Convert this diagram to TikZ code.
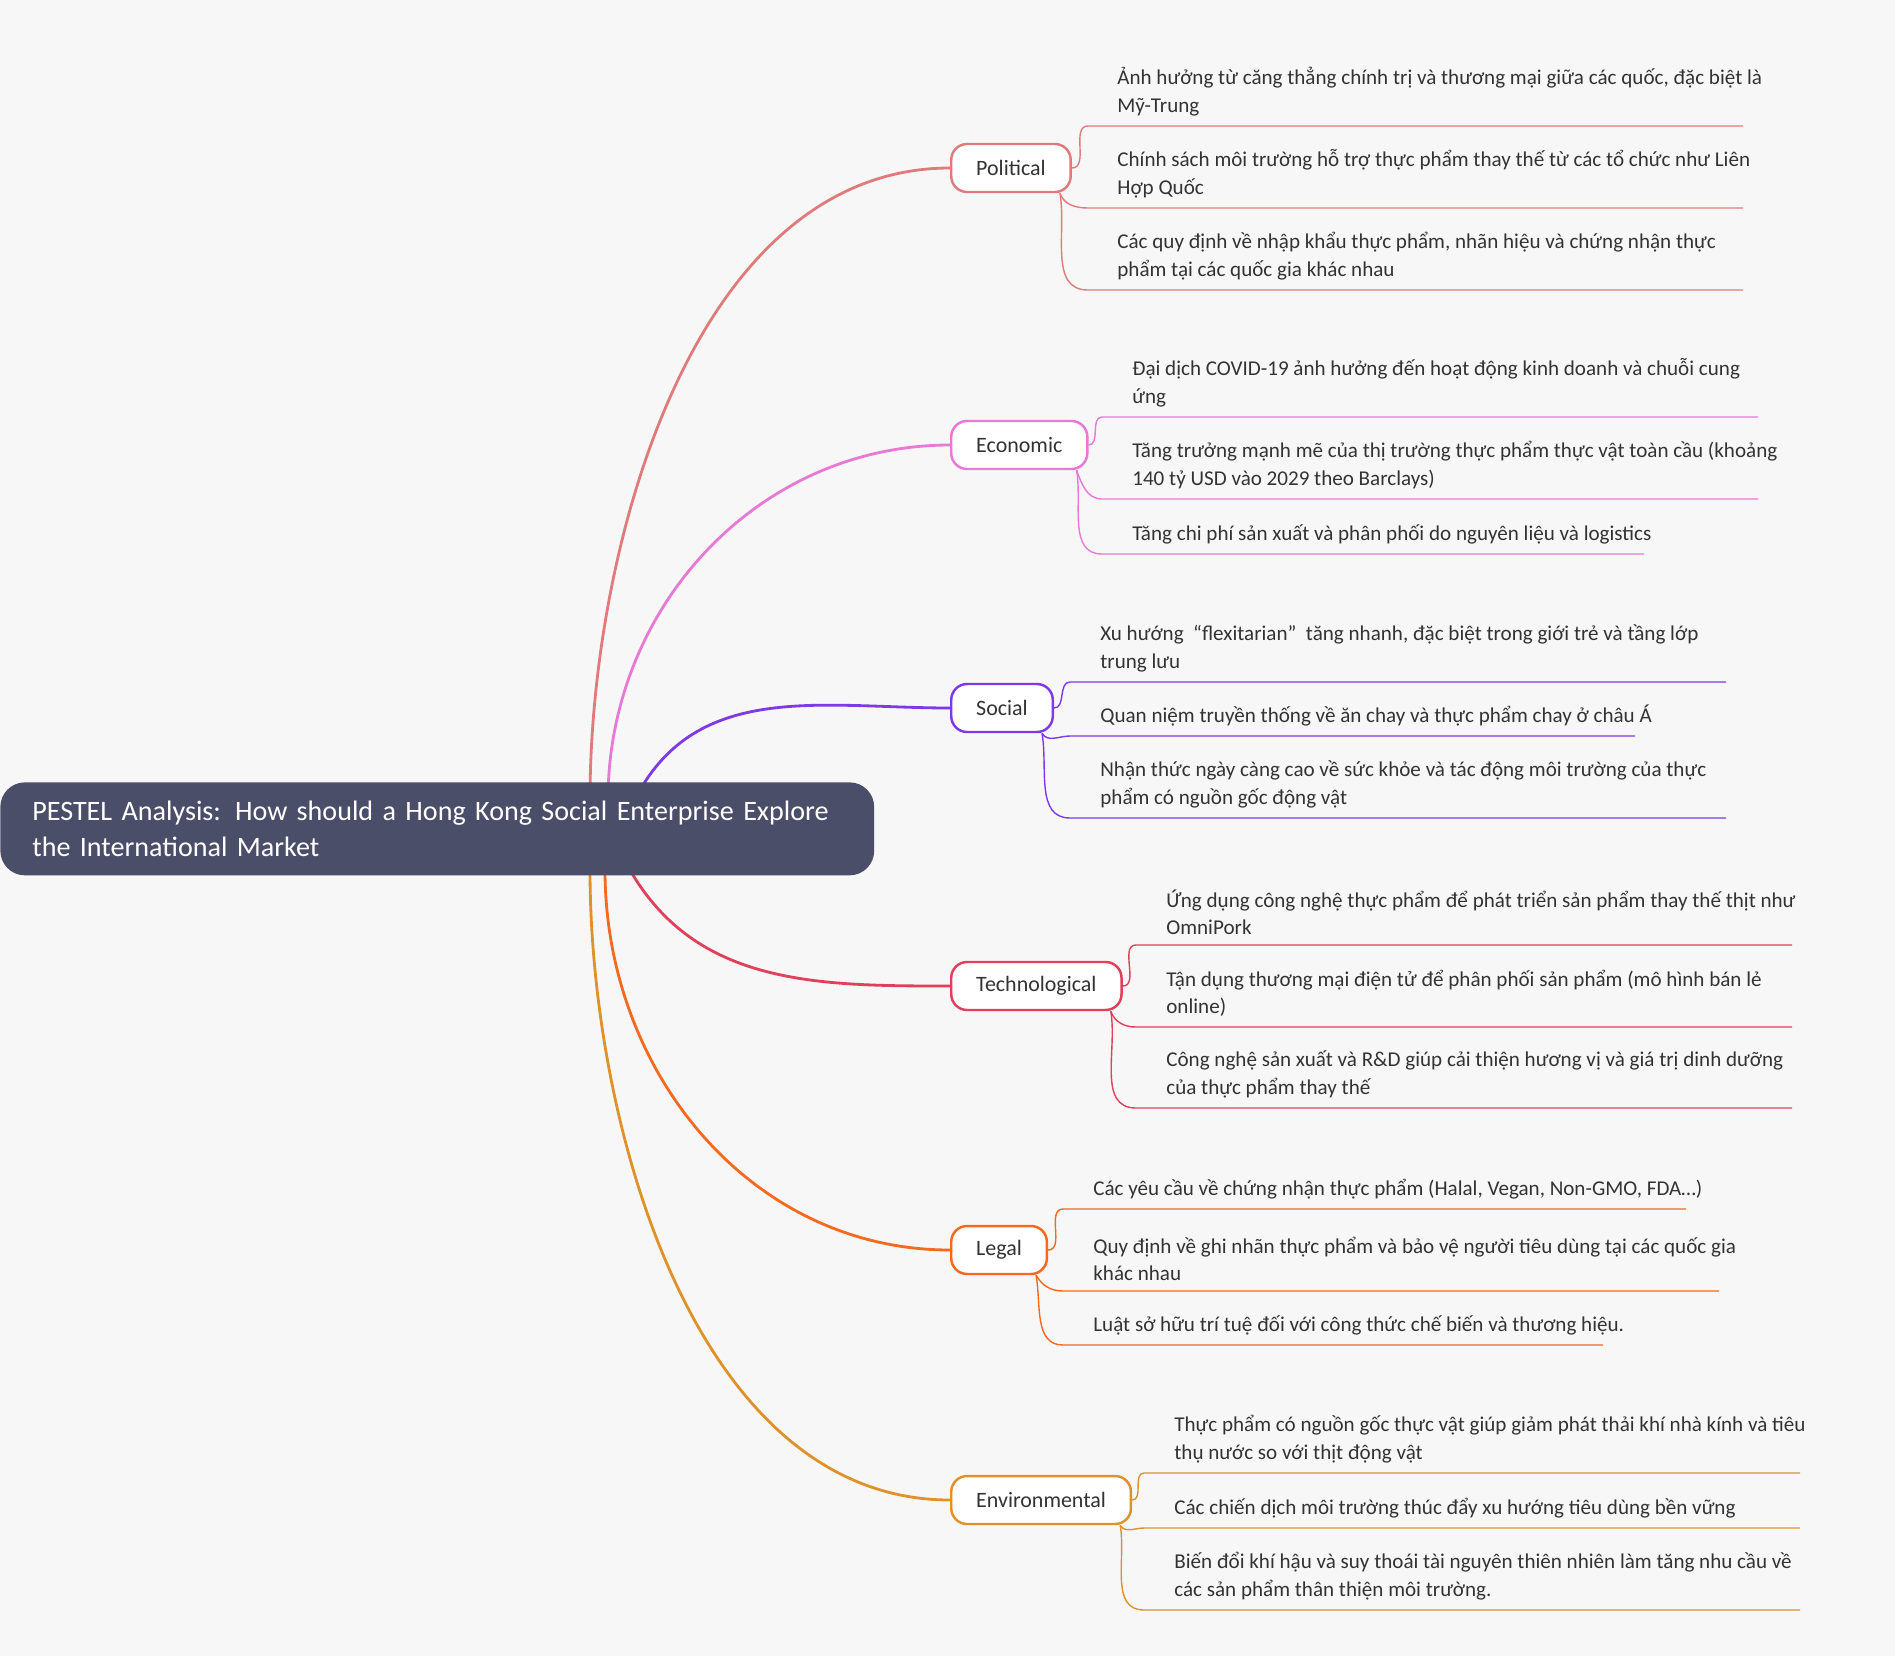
\documentclass[tikz,border=0pt]{standalone}
\usepackage{fontspec}
\setmainfont{Carlito}
\usepackage{tikz}
\usetikzlibrary{calc}
\definecolor{bgc}{HTML}{F7F7F7}
\definecolor{rootc}{HTML}{4B4E69}
\definecolor{txtc}{HTML}{333333}
\definecolor{polc}{HTML}{E07B7B}
\definecolor{ecoc}{HTML}{E879D4}
\definecolor{socc}{HTML}{7D3AE6}
\definecolor{tecc}{HTML}{E0405A}
\definecolor{legc}{HTML}{F56A1E}
\definecolor{envc}{HTML}{E0922A}
\begin{document}
\begin{tikzpicture}[x=0.02cm,y=-0.02cm]
    \tikzstyle{branch} = [line width=1.6pt]
    \tikzstyle{twig} = [line width=0.8pt]
    \tikzstyle{cat} = [draw, line width=1.4pt, fill=white, rounded corners=9pt, minimum height=0.96cm, inner xsep=0.5cm, text=txtc, font=\fontsize{12.5}{15}\selectfont, anchor=west]
    \tikzstyle{leaf} = [anchor=south west, align=left, inner sep=0pt, text=txtc, font=\fontsize{12}{15.6}\selectfont]
    % Background
    \fill [bgc] (0,0) rectangle (1895,1656);

    % Political
    \node [cat, draw=polc] (Pol) at (950,168) {Political};
    \draw [branch, polc] (590,800) to[out=90,in=180,looseness=0.9] (Pol.west);
      \coordinate (PolAs) at (1088,126); \coordinate (PolAe) at (1743,126);
      \node [leaf] (PolA) at (1117,116) {Ảnh hưởng từ căng thẳng chính trị và thương mại giữa các quốc, đặc biệt là\\Mỹ-Trung};
      \draw [twig, polc] (Pol.east) to[out=0,in=180] (PolAs) -- (PolAe);
      \coordinate (PolBs) at (1088,208); \coordinate (PolBe) at (1743,208);
      \node [leaf] (PolB) at (1117,198) {Chính sách môi trường hỗ trợ thực phẩm thay thế từ các tổ chức như Liên\\Hợp Quốc};
      \draw [twig, polc] ($(Pol.south east)+(-12,0)$) to[out=-70,in=180] (PolBs) -- (PolBe);
      \coordinate (PolCs) at (1088,290); \coordinate (PolCe) at (1743,290);
      \node [leaf] (PolC) at (1117,280) {Các quy định về nhập khẩu thực phẩm, nhãn hiệu và chứng nhận thực\\phẩm tại các quốc gia khác nhau};
      \draw [twig, polc] ($(Pol.south east)+(-12,0)$) to[out=-80,in=180] (PolCs) -- (PolCe);

    % Economic
    \node [cat, draw=ecoc] (Eco) at (950,445) {Economic};
    \draw [branch, ecoc] (608,800) to[out=90,in=180] (Eco.west);
      \coordinate (EcoAs) at (1102,417); \coordinate (EcoAe) at (1758,417);
      \node [leaf] (EcoA) at (1132,407) {Đại dịch COVID-19 ảnh hưởng đến hoạt động kinh doanh và chuỗi cung\\ứng};
      \draw [twig, ecoc] (Eco.east) to[out=0,in=180] (EcoAs) -- (EcoAe);
      \coordinate (EcoBs) at (1102,499); \coordinate (EcoBe) at (1758,499);
      \node [leaf] (EcoB) at (1132,489) {Tăng trưởng mạnh mẽ của thị trường thực phẩm thực vật toàn cầu (khoảng\\140 tỷ USD vào 2029 theo Barclays)};
      \draw [twig, ecoc] ($(Eco.south east)+(-12,0)$) to[out=-70,in=180] (EcoBs) -- (EcoBe);
      \coordinate (EcoCs) at (1102,554); \coordinate (EcoCe) at (1644,554);
      \node [leaf] (EcoC) at (1132,544) {Tăng chi phí sản xuất và phân phối do nguyên liệu và logistics};
      \draw [twig, ecoc] ($(Eco.south east)+(-12,0)$) to[out=-80,in=180] (EcoCs) -- (EcoCe);

    % Social
    \node [cat, draw=socc] (Soc) at (950,708) {Social};
    \draw [branch, socc] (640,790) to[out=60,in=180] (Soc.west);
      \coordinate (SocAs) at (1070,682); \coordinate (SocAe) at (1726,682);
      \node [leaf] (SocA) at (1100,672) {Xu hướng \ “flexitarian” \ tăng nhanh, đặc biệt trong giới trẻ và tầng lớp\\trung lưu};
      \draw [twig, socc] (Soc.east) to[out=0,in=180] (SocAs) -- (SocAe);
      \coordinate (SocBs) at (1070,736); \coordinate (SocBe) at (1635,736);
      \node [leaf] (SocB) at (1100,726) {Quan niệm truyền thống về ăn chay và thực phẩm chay ở châu Á};
      \draw [twig, socc] ($(Soc.south east)+(-12,0)$) to[out=-60,in=180] (SocBs) -- (SocBe);
      \coordinate (SocCs) at (1070,818); \coordinate (SocCe) at (1726,818);
      \node [leaf] (SocC) at (1100,808) {Nhận thức ngày càng cao về sức khỏe và tác động môi trường của thực\\phẩm có nguồn gốc động vật};
      \draw [twig, socc] ($(Soc.south east)+(-12,0)$) to[out=-80,in=180] (SocCs) -- (SocCe);

    % Technological
    \node [cat, draw=tecc] (Tec) at (950,986) {Technological};
    \draw [branch, tecc] (630,870) to[out=-60,in=180] (Tec.west);
      \coordinate (TecAs) at (1136,945); \coordinate (TecAe) at (1792,945);
      \node [leaf] (TecA) at (1166,935) {Ứng dụng công nghệ thực phẩm để phát triển sản phẩm thay thế thịt như\\OmniPork};
      \draw [twig, tecc] (Tec.east) to[out=0,in=180] (TecAs) -- (TecAe);
      \coordinate (TecBs) at (1136,1027); \coordinate (TecBe) at (1792,1027);
      \node [leaf] (TecB) at (1166,1017) {Tận dụng thương mại điện tử để phân phối sản phẩm (mô hình bán lẻ\\online)};
      \draw [twig, tecc] ($(Tec.south east)+(-12,0)$) to[out=-70,in=180] (TecBs) -- (TecBe);
      \coordinate (TecCs) at (1136,1108); \coordinate (TecCe) at (1792,1108);
      \node [leaf] (TecC) at (1166,1098) {Công nghệ sản xuất và R\&D giúp cải thiện hương vị và giá trị dinh dưỡng\\của thực phẩm thay thế};
      \draw [twig, tecc] ($(Tec.south east)+(-12,0)$) to[out=-80,in=180] (TecCs) -- (TecCe);

    % Legal
    \node [cat, draw=legc] (Leg) at (950,1250) {Legal};
    \draw [branch, legc] (605,870) to[out=-90,in=180] (Leg.west);
      \coordinate (LegAs) at (1063,1209); \coordinate (LegAe) at (1686,1209);
      \node [leaf] (LegA) at (1093,1199) {Các yêu cầu về chứng nhận thực phẩm (Halal, Vegan, Non-GMO, FDA…)};
      \draw [twig, legc] (Leg.east) to[out=0,in=180] (LegAs) -- (LegAe);
      \coordinate (LegBs) at (1063,1291); \coordinate (LegBe) at (1719,1291);
      \node [leaf] (LegB) at (1093,1281) {Quy định về ghi nhãn thực phẩm và bảo vệ người tiêu dùng tại các quốc gia\\khác nhau};
      \draw [twig, legc] ($(Leg.south east)+(-12,0)$) to[out=-60,in=180] (LegBs) -- (LegBe);
      \coordinate (LegCs) at (1063,1345); \coordinate (LegCe) at (1603,1345);
      \node [leaf] (LegC) at (1093,1335) {Luật sở hữu trí tuệ đối với công thức chế biến và thương hiệu.};
      \draw [twig, legc] ($(Leg.south east)+(-12,0)$) to[out=-80,in=180] (LegCs) -- (LegCe);

    % Environmental
    \node [cat, draw=envc] (Env) at (950,1500) {Environmental};
    \draw [branch, envc] (590,870) to[out=-90,in=180,looseness=0.9] (Env.west);
      \coordinate (EnvAs) at (1144,1473); \coordinate (EnvAe) at (1800,1473);
      \node [leaf] (EnvA) at (1174,1463) {Thực phẩm có nguồn gốc thực vật giúp giảm phát thải khí nhà kính và tiêu\\thụ nước so với thịt động vật};
      \draw [twig, envc] (Env.east) to[out=0,in=180] (EnvAs) -- (EnvAe);
      \coordinate (EnvBs) at (1144,1528); \coordinate (EnvBe) at (1800,1528);
      \node [leaf] (EnvB) at (1174,1518) {Các chiến dịch môi trường thúc đẩy xu hướng tiêu dùng bền vững};
      \draw [twig, envc] ($(Env.south east)+(-12,0)$) to[out=-60,in=180] (EnvBs) -- (EnvBe);
      \coordinate (EnvCs) at (1144,1610); \coordinate (EnvCe) at (1800,1610);
      \node [leaf] (EnvC) at (1174,1600) {Biến đổi khí hậu và suy thoái tài nguyên thiên nhiên làm tăng nhu cầu về\\các sản phẩm thân thiện môi trường.};
      \draw [twig, envc] ($(Env.south east)+(-12,0)$) to[out=-80,in=180] (EnvCs) -- (EnvCe);

    % Root
    \node [fill=rootc, rounded corners=14pt, text=white, align=left, anchor=north west, minimum width=17.48cm, minimum height=1.86cm, text width=16.2cm, inner xsep=0.6cm, font=\fontsize{16}{21}\selectfont] (Root) at (0,782) {PESTEL Analysis: How should a Hong Kong Social Enterprise Explore\\the International Market};
\end{tikzpicture}
\end{document}
